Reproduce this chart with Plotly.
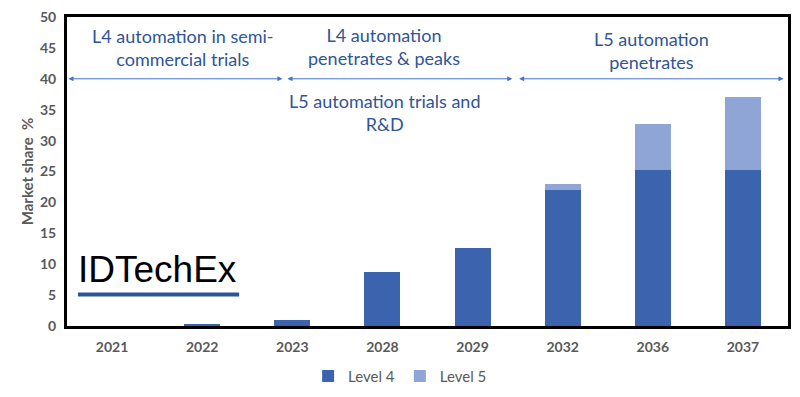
import plotly.graph_objects as go

years = ["2021", "2022", "2023", "2028", "2029", "2032", "2036", "2037"]
level4 = [0, 0.4, 1.0, 8.8, 12.6, 22.0, 25.2, 25.3]
level5 = [0, 0, 0, 0, 0, 1.0, 7.5, 11.8]

c4 = "#3C64AE"
c5 = "#8FA5D6"
txt = "#2F5597"
grey = "#595959"

fig = go.Figure()
fig.add_bar(x=years, y=level4, name="Level 4", marker=dict(color=c4, line=dict(width=0)), width=0.4)
fig.add_bar(x=years, y=level5, name="Level 5", marker=dict(color=c5, line=dict(width=0)), width=0.4)

annos = []
# arrows at y=40
for (x0, x1) in [(-0.5, 1.89), (1.93, 4.44), (4.5, 7.45)]:
    annos.append(dict(x=x1, y=40, ax=x0, ay=40, xref="x", yref="y", axref="x", ayref="y",
                      showarrow=True, arrowhead=2, startarrowhead=2, arrowside="end+start",
                      arrowsize=1, arrowwidth=1, arrowcolor="#4472C4", text=""))
font = dict(family="Lato, Open Sans, sans-serif", size=18, color=txt)
labels = [
    (0.79, 45.0, "L4 automation in semi-<br>commercial trials"),
    (3.02, 45.2, "L4 automation<br>penetrates & peaks"),
    (3.02, 34.6, "L5 automation trials and<br>R&D"),
    (5.98, 44.6, "L5 automation<br>penetrates"),
]
for x, y, t in labels:
    annos.append(dict(x=x, y=y, xref="x", yref="y", text=t, showarrow=False, font=font,
                      align="center", xanchor="center", yanchor="middle"))
annos.append(dict(x=-0.40, y=9.1, xref="x", yref="y", text="IDTechEx", showarrow=False,
                  font=dict(family="Liberation Sans, Arial", size=37, color="black"),
                  xanchor="left", yanchor="middle"))

tickfont = dict(family="Lato, Open Sans, sans-serif", size=14, color=grey, weight="bold")
fig.update_layout(
    width=784, height=389,
    margin=dict(l=59, r=4, t=9, b=60),
    plot_bgcolor="white", paper_bgcolor="white",
    barmode="stack",
    showlegend=True,
    legend=dict(orientation="h", x=0.462, xanchor="center", y=-0.1625, yanchor="middle",
                bgcolor="rgba(0,0,0,0)",
                font=dict(family="Lato, Open Sans, sans-serif", size=15, color=grey),
                itemwidth=30, traceorder="normal"),
    annotations=annos,
    shapes=[dict(type="line", xref="x", yref="y", x0=-0.378, x1=1.41, y0=5.1, y1=5.1,
                 line=dict(color="#2F5597", width=4))],
    xaxis=dict(showline=True, linecolor="black", linewidth=3, mirror=True, automargin=False,
               tickfont=tickfont, ticks="", ticklabelstandoff=6, range=[-0.5, 7.5]),
    yaxis=dict(range=[0, 50], dtick=5, showline=True, linecolor="black", linewidth=3, mirror=True,
               showgrid=False, zeroline=False, automargin=False, ticklabeloverflow="allow",
               tickfont=tickfont, ticklabelstandoff=5,
               title=dict(text="Market share  %", font=dict(family="Lato, Open Sans, sans-serif", size=15, color=grey, weight="bold"), standoff=3)),
    font=dict(family="Lato, Open Sans, sans-serif"),
)
fig.write_html("out.html")
